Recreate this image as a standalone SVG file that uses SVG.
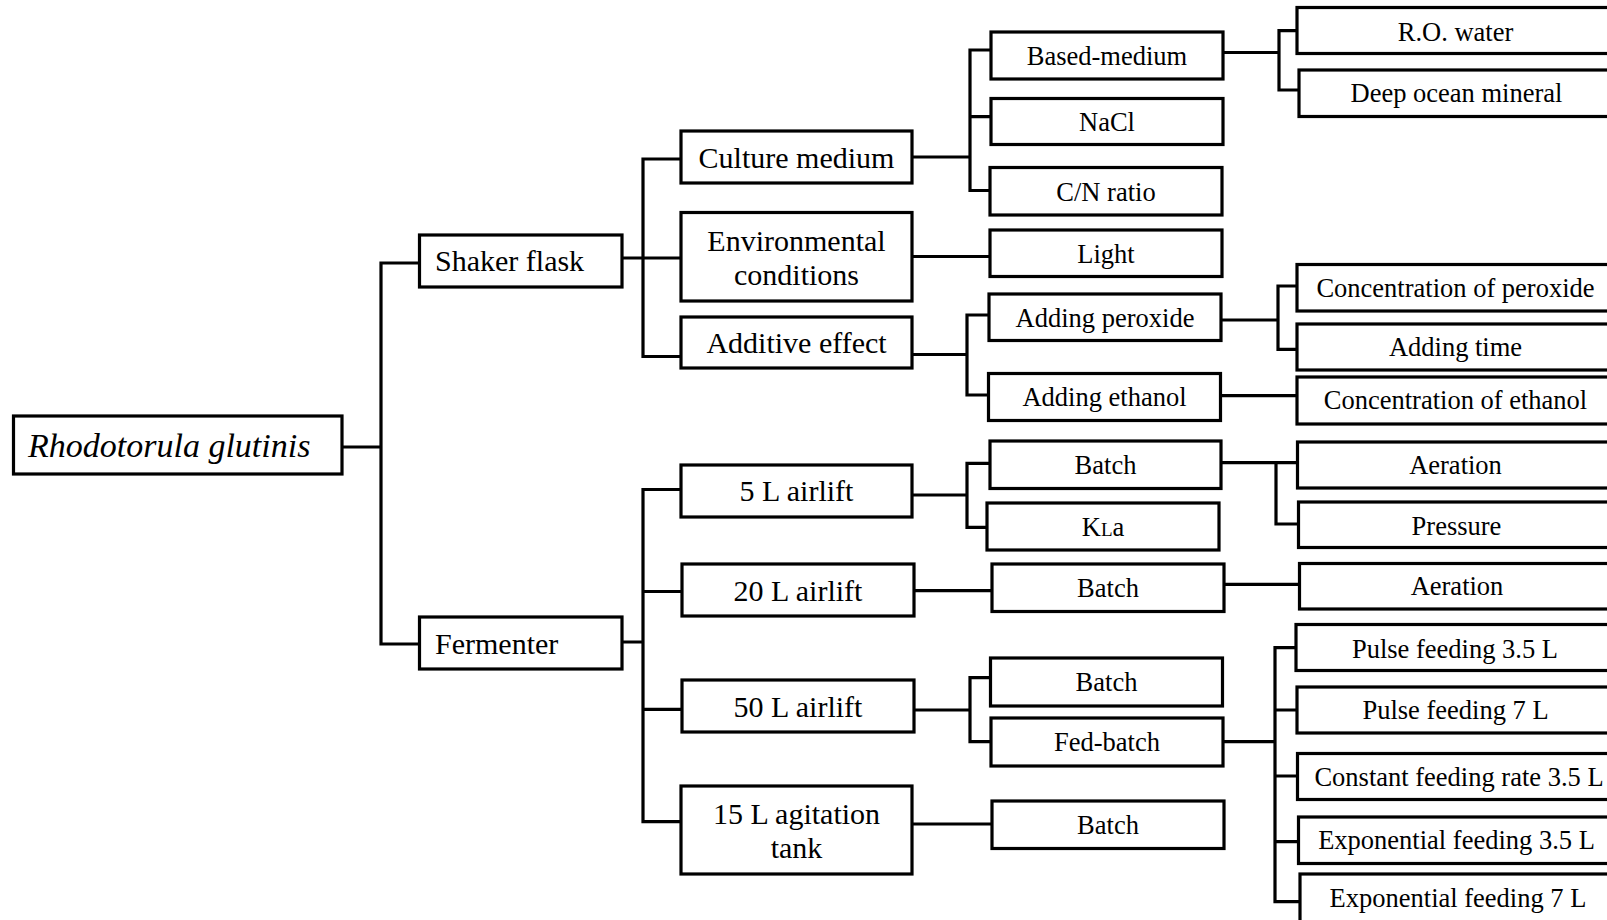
<svg xmlns="http://www.w3.org/2000/svg" width="1607" height="920" viewBox="0 0 1607 920">
<style>
.box{fill:#fff;stroke:#000;stroke-width:3.2}
.ln{fill:none;stroke:#000;stroke-width:3.2;stroke-linejoin:miter;stroke-linecap:square}
text{font-family:"Liberation Serif","Times New Roman",serif;fill:#000}
.t0{font-size:34px;font-style:italic}
.t1{font-size:30px}
.t2{font-size:30px;text-anchor:middle}
.t3{font-size:26.5px;text-anchor:middle}
</style>
<rect width="1607" height="920" fill="#fff"/>
<g id="connectors">
<path class="ln" d="M342 447H381M381 263V644M381 263H419.5M381 644H419.5"/>
<path class="ln" d="M622 258H643M643 159V356.5M643 159H681M643 258H681M643 356.5H681"/>
<path class="ln" d="M912 157H970M970 50V190.5M970 50H991M970 116.7H991M970 190.5H990"/>
<path class="ln" d="M912 256.5H990"/>
<path class="ln" d="M912 354.5H967M967 315V395M967 315H989M967 395H988.5"/>
<path class="ln" d="M1223 52.5H1279M1279 30.7V90M1279 30.7H1297M1279 90H1299"/>
<path class="ln" d="M1221 320H1278M1278 286V349.3M1278 286H1297M1278 349.3H1297"/>
<path class="ln" d="M1220.5 395.7H1297"/>
<path class="ln" d="M622 642H643M643 489.5V821.7M643 489.5H681M643 591.5H682M643 709.3H682M643 821.7H681"/>
<path class="ln" d="M912 495H967M967 463.3V527.3M967 463.3H990M967 527.3H987"/>
<path class="ln" d="M914 590.7H992"/>
<path class="ln" d="M914 710H970M970 677.7V741.7M970 677.7H990.5M970 741.7H991"/>
<path class="ln" d="M912 824H992"/>
<path class="ln" d="M1221 462.7H1276M1276 462.7V524M1276 524H1298.5M1276 462.7H1297.5"/>
<path class="ln" d="M1224 584.3H1299.5"/>
<path class="ln" d="M1223 741.7H1275M1275 647.7V901.7M1275 647.7H1296M1275 710H1297M1275 776H1297.5M1275 841.7H1298.5M1275 901.7H1300"/>
</g>
<g id="root"><rect class="box" x="13.5" y="416" width="328.5" height="58"/><text class="t0" x="28" y="457">Rhodotorula glutinis</text></g>
<g id="shaker"><rect class="box" x="419.5" y="235" width="202.5" height="52"/><text class="t1" x="435" y="271">Shaker flask</text></g>
<g id="fermenter"><rect class="box" x="419.5" y="617" width="202.5" height="52"/><text class="t1" x="435" y="653.5">Fermenter</text></g>
<g id="culture"><rect class="box" x="681" y="131" width="231" height="52"/><text class="t2" x="796.5" y="167.5">Culture medium</text></g>
<g id="env"><rect class="box" x="681" y="212.5" width="231" height="88.5"/><text class="t2" x="796.5" y="250.5">Environmental</text><text class="t2" x="796.5" y="285">conditions</text></g>
<g id="additive"><rect class="box" x="681" y="317" width="231" height="51"/><text class="t2" x="796.5" y="352.5">Additive effect</text></g>
<g id="airlift5"><rect class="box" x="681" y="465" width="231" height="52"/><text class="t2" x="796.5" y="501">5 L airlift</text></g>
<g id="airlift20"><rect class="box" x="682" y="564" width="232" height="52"/><text class="t2" x="798" y="600.5">20 L airlift</text></g>
<g id="airlift50"><rect class="box" x="682" y="680" width="232" height="52"/><text class="t2" x="798" y="716.5">50 L airlift</text></g>
<g id="tank15"><rect class="box" x="681" y="786" width="231" height="88"/><text class="t2" x="796.5" y="823.5">15 L agitation</text><text class="t2" x="796.5" y="857.7">tank</text></g>
<g id="based"><rect class="box" x="991" y="32" width="232" height="47"/><text class="t3" x="1107" y="65">Based-medium</text></g>
<g id="nacl"><rect class="box" x="991" y="98.5" width="232" height="46"/><text class="t3" x="1107" y="131">NaCl</text></g>
<g id="cn"><rect class="box" x="990" y="167.5" width="232" height="47.5"/><text class="t3" x="1106" y="201">C/N ratio</text></g>
<g id="light"><rect class="box" x="990" y="230" width="232" height="46.5"/><text class="t3" x="1106" y="263">Light</text></g>
<g id="addperox"><rect class="box" x="989" y="294" width="232" height="46.5"/><text class="t3" x="1105" y="326.5">Adding peroxide</text></g>
<g id="addeth"><rect class="box" x="988.5" y="373.5" width="232" height="47"/><text class="t3" x="1104.5" y="405.5">Adding ethanol</text></g>
<g id="batch5"><rect class="box" x="990" y="441" width="231" height="47.5"/><text class="t3" x="1105.5" y="473.5">Batch</text></g>
<g id="kla"><rect class="box" x="987" y="503" width="232" height="47"/><text class="t3" x="1103" y="535.5">K<tspan font-size="19">L</tspan>a</text></g>
<g id="batch20"><rect class="box" x="992" y="564" width="232" height="47.5"/><text class="t3" x="1108" y="597">Batch</text></g>
<g id="batch50"><rect class="box" x="990.5" y="658" width="232" height="48"/><text class="t3" x="1106.5" y="690.5">Batch</text></g>
<g id="fedbatch"><rect class="box" x="991" y="718" width="232" height="48"/><text class="t3" x="1107" y="750.5">Fed-batch</text></g>
<g id="batch15"><rect class="box" x="992" y="801" width="232" height="47.5"/><text class="t3" x="1108" y="833.5">Batch</text></g>
<g id="ro"><rect class="box" x="1297" y="7.5" width="317" height="46"/><text class="t3" x="1455.5" y="40.5">R.O. water</text></g>
<g id="deep"><rect class="box" x="1299" y="70" width="315" height="46.5"/><text class="t3" x="1456.5" y="101.5">Deep ocean mineral</text></g>
<g id="concperox"><rect class="box" x="1297" y="264.5" width="317" height="46.5"/><text class="t3" x="1455.5" y="296.8">Concentration of peroxide</text></g>
<g id="addtime"><rect class="box" x="1297" y="324" width="317" height="46"/><text class="t3" x="1455.5" y="356">Adding time</text></g>
<g id="conceth"><rect class="box" x="1297" y="377" width="317" height="47"/><text class="t3" x="1455.5" y="409.3">Concentration of ethanol</text></g>
<g id="aer1"><rect class="box" x="1297.5" y="442" width="316" height="46"/><text class="t3" x="1455.5" y="474">Aeration</text></g>
<g id="pressure"><rect class="box" x="1298.5" y="502" width="316" height="45.5"/><text class="t3" x="1456.5" y="534.5">Pressure</text></g>
<g id="aer2"><rect class="box" x="1299.5" y="563.5" width="315" height="45.5"/><text class="t3" x="1457" y="595">Aeration</text></g>
<g id="pulse35"><rect class="box" x="1296" y="624.5" width="318" height="46"/><text class="t3" x="1455" y="657.5">Pulse feeding 3.5 L</text></g>
<g id="pulse7"><rect class="box" x="1297" y="687" width="317" height="46"/><text class="t3" x="1455.5" y="719">Pulse feeding 7 L</text></g>
<g id="const35"><rect class="box" x="1297.5" y="753.5" width="317" height="46"/><text class="t3" x="1459" y="785.7">Constant feeding rate 3.5 L</text></g>
<g id="exp35"><rect class="box" x="1298.5" y="817" width="316" height="46.5"/><text class="t3" x="1456.5" y="849">Exponential feeding 3.5 L</text></g>
<g id="exp7"><rect class="box" x="1300" y="874" width="314" height="50"/><text class="t3" x="1458" y="907.3">Exponential feeding 7 L</text></g>
</svg>
